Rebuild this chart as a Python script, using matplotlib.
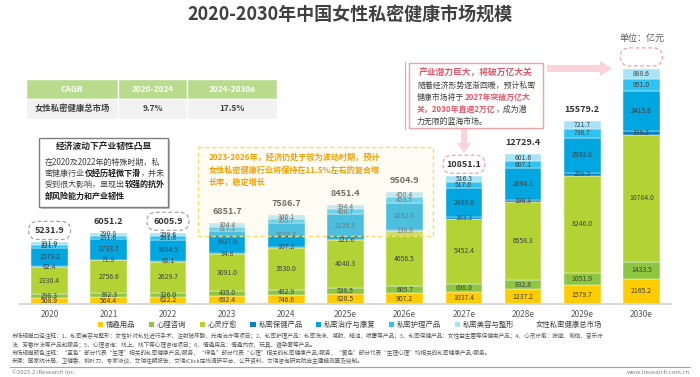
import numpy as np
import matplotlib
matplotlib.use("Agg")
import matplotlib.pyplot as plt
from matplotlib.patches import Rectangle, FancyBboxPatch, Patch, Polygon

plt.rcParams['font.family'] = ['Noto Sans CJK SC', 'DejaVu Sans']

# Data (亿元)
years = ["2020", "2021", "2022", "2023", "2024", "2025e", "2026e",
         "2027e", "2028e", "2029e", "2030e"]
series_names = ["情趣用品", "心理咨询", "心灵疗愈", "私密保健产品",
                "私密治疗与康复", "私密护理产品", "私密美容与整形"]
qingqu = [508.9, 564.4, 622.2, 682.4, 746.6, 820.5, 907.2, 1037.4, 1237.2, 1579.7, 2165.2]
xinli = [298.3, 382.3, 326.0, 435.0, 482.9, 538.5, 605.7, 698.0, 832.8, 1051.9, 1433.5]
xinling = [2330.4, 2756.6, 2629.7, 3091.0, 3530.0, 4040.3, 4656.5, 5452.4, 6558.3, 8246.0, 10784.0]
baojian = [62.4, 71.9, 82.1, 94.8, 107.2, 121.6, 138.8, 163.3, 198.3, 250.5, 338.2]
zhiliao = [1579.2, 1733.7, 1804.5, 1927.0, 2018.3, 2135.3, 2292.8, 2466.6, 2694.1, 2992.8, 3415.6]
huli = [221.7, 251.6, 281.8, 317.1, 355.7, 400.7, 453.5, 517.0, 607.1, 736.7, 951.0]
meirong = [231.0, 290.8, 259.6, 304.4, 346.1, 394.4, 450.4, 516.3, 601.6, 721.7, 888.6]
totals = ["5231.9", "6051.2", "6005.9", "6851.7", "7586.7", "8451.4", "9504.9",
          "10851.1", "12729.4", "15579.2", ""]
colors = ["#FFCC00", "#8DC63F", "#B3D334", "#0B80C4", "#00A6E0", "#2EC3F0", "#A7E4F7"]

cagr_header = ["CAGR", "2020-2024", "2024-2030e"]
cagr_row = ["女性私密健康总市场", "9.7%", "17.5%"]

W, H = 700, 377
fig = plt.figure(figsize=(7, 3.77), dpi=100)

# main chart axes
ax = fig.add_axes([20 / W, (H - 304) / H, 651 / W, 274 / H])
x = np.arange(len(years))
series = [qingqu, xinli, xinling, baojian, zhiliao, huli, meirong]
bottom = np.zeros(len(years))
for vals, c in zip(series, colors):
    vals = np.array(vals)
    ax.bar(x, vals, 0.62, bottom=bottom, color=c, edgecolor="white", linewidth=0.3)
    for xi, b, v in zip(x, bottom, vals):
        ax.text(xi, b + v / 2, f"{v:.1f}", ha="center", va="center",
                fontsize=4.9, color="#404040")
    bottom = bottom + vals

for xi, top, lab in zip(x, bottom, totals):
    ax.annotate(lab, (xi, top), xytext=(0, 5), textcoords="offset points",
                ha="center", va="bottom", fontsize=6.5, fontweight="bold", color="#333333")

ax.set_xlim(-0.5, 10.5)
ax.set_ylim(0, 23280)
ax.set_xticks(x)
ax.set_xticklabels(years, fontsize=6, color="#595959")
ax.tick_params(axis="x", length=0, pad=4)
ax.set_yticks([])
for s in ["top", "right", "left"]:
    ax.spines[s].set_visible(False)
ax.spines["bottom"].set_color("#D9D9D9")
ax.spines["bottom"].set_linewidth(1.5)

# legend
handles = [Patch(facecolor=c) for c in colors] + [Patch(facecolor="none", edgecolor="none")]
fig.legend(handles, series_names + ["女性私密健康总市场"], loc="center",
           bbox_to_anchor=(350 / W, 1 - 325 / H), ncol=8, frameon=False,
           fontsize=5.3, handlelength=0.7, handleheight=0.7, handletextpad=0.4,
           columnspacing=1.8, labelcolor="#404040")

# overlay in pixel coordinates
ov = fig.add_axes([0, 0, 1, 1], zorder=5)
ov.set_xlim(0, W)
ov.set_ylim(H, 0)
ov.axis("off")
ov.patch.set_alpha(0)

ov.text(350, 15, "2020-2030年中国女性私密健康市场规模", ha="center", va="center",
        fontsize=13, fontweight="bold", color="#404040")
ov.text(642, 38, "单位：亿元", ha="center", va="center", fontsize=6.5, color="#595959")

# CAGR table
cols = [26, 118, 187, 277]
for i in range(3):
    ov.add_patch(Rectangle((cols[i], 79), cols[i + 1] - cols[i], 20,
                           facecolor="#B7DC8D", edgecolor="white", linewidth=1))
    ov.add_patch(Rectangle((cols[i], 99), cols[i + 1] - cols[i], 19.5,
                           facecolor="#F2F2F2", edgecolor="white", linewidth=1))
    cx = (cols[i] + cols[i + 1]) / 2
    ov.text(cx, 89, cagr_header[i], ha="center", va="center", fontsize=6,
            fontweight="bold", color="white")
    ov.text(cx, 108.5, cagr_row[i], ha="center", va="center", fontsize=6,
            fontweight="bold", color="#404040")

renderer = fig.canvas.get_renderer()


def rich(x0, y0, parts, size):
    # draw one line made of normal / bold pieces, side by side
    for s, bold, col in parts:
        t = ov.text(x0, y0, s, ha="left", va="center", fontsize=size,
                    fontweight="bold" if bold else "normal", color=col)
        x0 += t.get_window_extent(renderer=renderer).width


# gray box
ov.add_patch(Rectangle((41, 140), 129, 69, facecolor="#BFBFBF", edgecolor="none"))
ov.add_patch(Rectangle((39, 138), 129, 69, facecolor="white", edgecolor="#7F7F7F", linewidth=1))
ov.text(103.5, 147, "经济波动下产业韧性凸显", ha="center", va="center", fontsize=6.3,
        fontweight="bold", color="#262626")
g, k = "#404040", "#1A1A1A"
rich(45, 162, [("在2020及2022年的特殊时期，私", False, g)], 5.8)
rich(45, 173, [("密健康行业", False, g), ("仅经历轻微下滑", True, k), ("，并未", False, g)], 5.8)
rich(45, 184.5, [("受到很大影响，显现出", False, g), ("较强的抗外", True, k)], 5.8)
rich(45, 196, [("部风险能力和产业韧性", True, k)], 5.8)

# yellow dashed box
ov.add_patch(Rectangle((198, 147), 235, 89, facecolor="#FFF6DC", alpha=0.3,
                       edgecolor="none"))
ov.add_patch(Rectangle((198, 147), 235, 89, facecolor="none", edgecolor="#FFD966",
                       linewidth=1, linestyle=(0, (3, 2))))
o = "#F5A000"
rich(209, 157, [("2023-2026年，经济仍处于较为波动时期，预计", True, o)], 5.9)
rich(209, 170, [("女性私密健康行业将保持在11.5%左右的复合增", True, o)], 5.9)
rich(209, 182, [("长率，稳定增长", True, o)], 5.9)

# pink box and arrows
pk = "#F4A0A8"
ov.add_patch(Polygon([(461, 128), (467, 128), (467, 143), (471, 143), (464, 153),
                      (457, 143), (461, 143)], closed=True, facecolor="#FAD4D8",
                     edgecolor="none"))
ov.add_patch(Polygon([(547, 65), (600, 65), (600, 61), (612, 68.5), (600, 76),
                      (600, 72), (547, 72)], closed=True, facecolor="#FAD4D8",
                     edgecolor="none"))
ov.add_patch(Rectangle((409, 63), 134, 65, facecolor="white", edgecolor=pk, linewidth=1))
ov.plot([405, 405], [62, 129], color=pk, linewidth=0.8)
r = "#EE5466"
ov.text(476, 73, "产业潜力巨大，将破万亿大关", ha="center", va="center", fontsize=6.3,
        fontweight="bold", color=r)
rich(417, 85, [("随着经济形势逐渐回暖，预计私密", False, g)], 5.7)
rich(417, 97, [("健康市场将于", False, g), ("2027年突破万亿大", True, r)], 5.7)
rich(417, 109, [("关，2030年直逼2万亿", True, r), ("，成为潜", False, g)], 5.7)
rich(417, 121, [("力无限的蓝海市场。", False, g)], 5.7)

# dashed ellipses around selected totals
for idx, col in [(0, "#A6A6A6"), (2, "#A6A6A6"), (7, "#F4A0A8"), (10, "#F4A0A8")]:
    px, py = ax.transData.transform((x[idx], bottom[idx]))
    cy = H - py - 12
    ov.add_patch(FancyBboxPatch((px - 18, cy - 6), 36, 12,
                                boxstyle="round,pad=3,rounding_size=9",
                                facecolor="none", edgecolor=col, linewidth=0.9,
                                linestyle=(0, (3, 2))))

# footnotes
notes = [
    "市场规模口径注释：1、私密美容与整形：女性针对私处进行手术、注射玻尿酸、光电治疗等项目；2、私密护理产品：私密洗液、凝胶、精油、喷雾等产品；3、私密保健产品：女性益生菌等保健类产品；4、心灵疗愈：按摩、瑜伽、音乐疗",
    "法、芳香疗法等产品和服务；5、心理咨询：线上、线下等心理咨询项目；6、情趣用品：情趣内衣、玩具、避孕套等产品。",
    "市场规模颜色注释：“蓝色”部分代表“生理”相关的私密健康产品/服务，“绿色”部分代表“心理”相关的私密健康产品/服务，“黄色”部分代表“生理心理”均相关的私密健康产品/服务。",
    "来源：国家统计局、卫健委、柳叶刀、专家访谈、艾瑞往期报告、艾瑞iClick在线调研平台、公开资料、艾瑞咨询研究院自主建模测算及绘制。",
]
for i, n in enumerate(notes):
    ov.text(12, 336 + i * 8.3, n, ha="left", va="center", fontsize=4.1, color="#595959")
ov.plot([10, 690], [367, 367], color="#A6A6A6", linewidth=0.8)
ov.text(12, 373, "©2025.2 iResearch Inc.", ha="left", va="center", fontsize=4.3, color="#7F7F7F")
ov.text(690, 373, "www.iresearch.com.cn", ha="right", va="center", fontsize=4.3, color="#7F7F7F")

fig.savefig("out.png", dpi=100)
